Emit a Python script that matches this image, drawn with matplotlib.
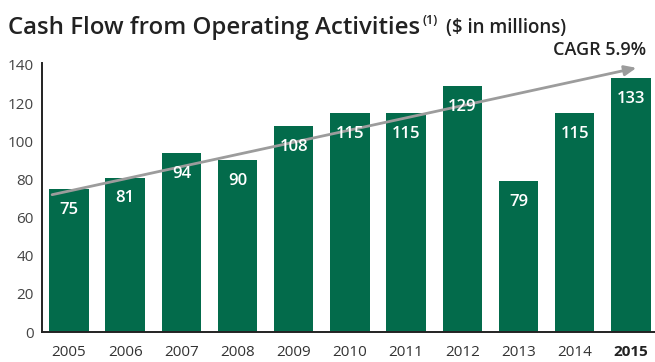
import matplotlib
matplotlib.use("Agg")
import matplotlib.pyplot as plt

years = ["2005", "2006", "2007", "2008", "2009", "2010", "2011", "2012", "2013", "2014", "2015"]
cash_flow = [75, 81, 94, 90, 108, 115, 115, 129, 79, 115, 133]
y_ticks = [0, 20, 40, 60, 80, 100, 120, 140]
trend_start = 72
trend_end = 138.5

GREEN = "#036b4b"
FONT = "Open Sans"
DARK = "#222222"

fig = plt.figure(figsize=(6.55, 3.62), dpi=100)
ax = fig.add_axes([42 / 655, 30 / 362, (655 - 42) / 655, (332 - 65) / 362 * 141 / 140])

x = list(range(len(years)))
ax.bar(x, cash_flow, width=0.7, color=GREEN, zorder=2)

for xi, v in zip(x, cash_flow):
    ax.annotate(str(v), (xi, v), xytext=(0, -15), textcoords="offset points",
                ha="center", va="center", color="white", fontsize=12,
                fontweight="semibold", family=FONT, zorder=4)

ax.set_xlim(-0.48, 10.43)
ax.set_ylim(0, 141)
ax.set_yticks(y_ticks)
ax.set_yticklabels([str(t) for t in y_ticks], family=FONT, fontsize=11, color="#444444")
ax.set_xticks(x)
ax.set_xticklabels(years, family=FONT, fontsize=11, color="#333333")
ax.get_xticklabels()[-1].set_fontweight("bold")
ax.get_xticklabels()[-1].set_color(DARK)
ax.tick_params(axis="both", length=0, pad=6)
ax.tick_params(axis="x", pad=9)

for side in ["top", "right"]:
    ax.spines[side].set_visible(False)
for side in ["left", "bottom"]:
    ax.spines[side].set_linewidth(1.4)
    ax.spines[side].set_color(DARK)

# CAGR trend arrow
ax.annotate("", xy=(10.1, trend_end), xytext=(-0.3, trend_start),
            arrowprops=dict(arrowstyle="-|>,head_length=0.7,head_width=0.3",
                            color="#9c9c9c", lw=2.0, shrinkA=0, shrinkB=0),
            zorder=3, annotation_clip=False)
fig.text(646 / 655, 1 - 55 / 362, "CAGR 5.9%", ha="right", va="baseline",
         family=FONT, fontsize=13, fontweight="semibold", color=DARK)

# Title, with footnote marker and units set after it
title = fig.text(8 / 655, 1 - 34 / 362, "Cash Flow from Operating Activities", ha="left",
                 va="baseline", family=FONT, fontsize=17.3, fontweight="semibold", color=DARK)
fig.canvas.draw()
r = fig.canvas.get_renderer()
bb = title.get_window_extent(r)
sup = fig.text(bb.x1 / 655 + 2 / 655, 1 - 24 / 362, "(1)", ha="left", va="baseline",
               family=FONT, fontsize=9, fontweight="semibold", color=DARK)
bb2 = sup.get_window_extent(r)
fig.text(bb2.x1 / 655 + 9 / 655, 1 - 33 / 362, "($ in millions)", ha="left", va="baseline",
         family=FONT, fontsize=13.5, fontweight="semibold", color=DARK)

fig.savefig("out.png", dpi=100)
